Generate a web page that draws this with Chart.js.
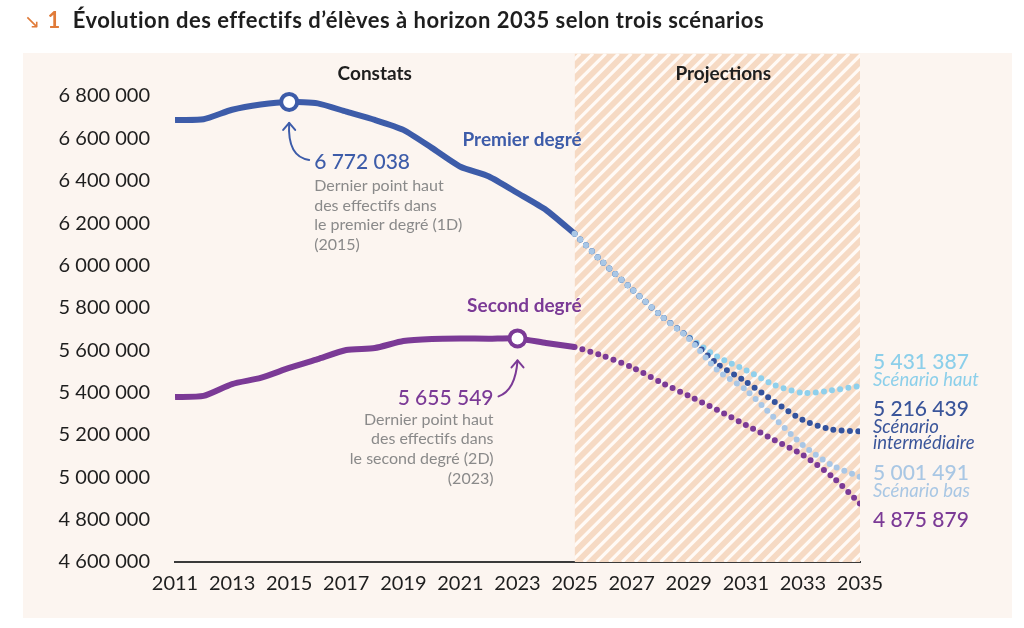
<!DOCTYPE html>
<html lang="fr">
<head>
<meta charset="utf-8">
<script src="https://cdn.jsdelivr.net/npm/chart.js@4"></script>
<style>
  html,body{margin:0;padding:0;background:#fff;}
  #wrap{position:relative;width:1024px;height:628px;}
  canvas{position:absolute;left:0;top:0;}
  #title{position:absolute;left:24px;top:6px;font-family:Lato,"Open Sans",sans-serif;font-weight:700;font-size:22px;letter-spacing:0.5px;line-height:28px;color:#1e1e1e;white-space:nowrap;}
  #title .num{color:#e07b39;margin-right:12px;}
  #title .arr{color:#e07b39;font-family:"DejaVu Sans",sans-serif;font-weight:400;font-size:19px;margin-right:7px;}
</style>
</head>
<body>
<div id="wrap">
  <canvas id="c" width="1024" height="628"></canvas>
  <div id="title"><span class="arr">↘</span><span class="num">1</span>Évolution des effectifs d’élèves à horizon 2035 selon trois scénarios</div>
</div>
<script>
// ---------- DATA ----------
const yearsObserved = [2011,2012,2013,2014,2015,2016,2017,2018,2019,2020,2021,2022,2023,2024,2025];
const yearsProjected = [2025,2026,2027,2028,2029,2030,2031,2032,2033,2034,2035];
const xTickLabels = [2011,2013,2015,2017,2019,2021,2023,2025,2027,2029,2031,2033,2035];
const yTickValues = [4600000,4800000,5000000,5200000,5400000,5600000,5800000,6000000,6200000,6400000,6600000,6800000];

const premierDegre = [6687000,6690000,6735000,6760000,6772038,6765000,6726000,6687000,6640000,6555000,6466000,6420000,6342000,6262000,6150000];
const secondDegre  = [5379000,5384000,5440000,5469000,5516000,5558000,5601000,5610000,5643000,5653000,5655000,5654000,5655549,5634000,5615000];

const premierHaut = [6150000,6013000,5889000,5766000,5662000,5569000,5506000,5436000,5398000,5410000,5431387];
const premierInter = [6150000,6013000,5889000,5766000,5660000,5535000,5451000,5357000,5270000,5226000,5216439];
const premierBas  = [6150000,6013000,5889000,5766000,5655000,5506000,5412000,5280000,5152000,5058000,5001491];
const secondProj  = [5615000,5573000,5520000,5450000,5384000,5318000,5247000,5176000,5105000,5006000,4875879];

const peak1D = {year:2015, value:6772038};
const peak2D = {year:2023, value:5655549};

// ---------- HELPERS ----------
const fmt = v => String(v).replace(/\B(?=(\d{3})+(?!\d))/g, ' ');
const pts = (xs, ys) => xs.map((x,i)=>({x:x, y:ys[i]}));
const FONT = 'Lato, "Open Sans", sans-serif';

const C = {
  blue:'#3d5ca9', purple:'#7b3a96', haut:'#8fd0ec', inter:'#34539e', bas:'#a9c7e6',
  gray:'#8a8a8a', dark:'#1e1e1e', panel:'#fcf5f0', hatch:'#f6dac4'
};

const dotted = (data, color) => ({
  data, borderColor:color, borderWidth:6, borderDash:[0,8.2], borderCapStyle:'round',
  pointRadius:0, tension:0.25, fill:false
});

const bgPlugin = {
  id:'bg',
  beforeDraw(chart){
    const ctx = chart.ctx;
    ctx.save();
    ctx.fillStyle = '#fff';
    ctx.fillRect(0,0,chart.width,chart.height);
    ctx.fillStyle = C.panel;
    ctx.fillRect(23,53,989,565);
    ctx.restore();
  },
  beforeDatasetsDraw(chart){
    const ctx = chart.ctx, xs = chart.scales.x, a = chart.chartArea;
    const x0 = xs.getPixelForValue(2025), x1 = xs.getPixelForValue(2035);
    const top = a.top, bot = a.bottom, h = bot - top;
    ctx.save();
    ctx.beginPath(); ctx.rect(x0, top, x1-x0, h); ctx.clip();
    ctx.fillStyle = C.hatch; ctx.fillRect(x0, top, x1-x0, h);
    ctx.strokeStyle = '#fffaf6'; ctx.lineWidth = 3.2;
    for (let k = x0 - h - 20; k < x1 + 20; k += 12.8){
      ctx.beginPath(); ctx.moveTo(k, bot); ctx.lineTo(k + h, top); ctx.stroke();
    }
    ctx.restore();
  }
};

function txt(ctx, s, x, y, font, color, align){
  ctx.font = font; ctx.fillStyle = color; ctx.textAlign = align || 'left'; ctx.textBaseline = 'middle';
  ctx.fillText(s, x, y);
}

const labelPlugin = {
  id:'labels',
  afterDatasetsDraw(chart){
    const ctx = chart.ctx, xs = chart.scales.x, ys = chart.scales.y;
    const X = v => xs.getPixelForValue(v), Y = v => ys.getPixelForValue(v);
    ctx.save();
    // section headers
    txt(ctx, 'Constats', X(2018), 74, '700 19px '+FONT, C.dark, 'center');
    txt(ctx, 'Projections', X(2030)+6, 74, '700 19px '+FONT, C.dark, 'center');
    // series names
    txt(ctx, 'Premier degré', X(2025)+7, 140, '700 19px '+FONT, C.blue, 'right');
    txt(ctx, 'Second degré', X(2025)+7, 306, '700 19px '+FONT, C.purple, 'right');

    // 1D peak annotation
    const p1x = X(peak1D.year), p1y = Y(peak1D.value);
    const a1x = p1x + 25;
    txt(ctx, fmt(peak1D.value), a1x, p1y + 60, '500 21px '+FONT, C.blue, 'left');
    ['Dernier point haut','des effectifs dans','le premier degré (1D)','(2015)'].forEach((s,i)=>{
      txt(ctx, s, a1x, p1y + 84 + i*19.6, '400 16px '+FONT, C.gray, 'left');
    });
    ctx.strokeStyle = C.blue; ctx.lineWidth = 2; ctx.lineCap='round'; ctx.lineJoin='round';
    ctx.beginPath(); ctx.moveTo(a1x - 5, p1y + 58);
    ctx.quadraticCurveTo(p1x - 2, p1y + 55, p1x, p1y + 21); ctx.stroke();
    ctx.beginPath(); ctx.moveTo(p1x - 6, p1y + 28); ctx.lineTo(p1x, p1y + 21); ctx.lineTo(p1x + 6, p1y + 28); ctx.stroke();

    // 2D peak annotation
    const p2x = X(peak2D.year), p2y = Y(peak2D.value);
    const a2x = p2x - 24;
    txt(ctx, fmt(peak2D.value), a2x, p2y + 60, '500 21px '+FONT, C.purple, 'right');
    ['Dernier point haut','des effectifs dans','le second degré (2D)','(2023)'].forEach((s,i)=>{
      txt(ctx, s, a2x, p2y + 81 + i*19.8, '400 16px '+FONT, C.gray, 'right');
    });
    ctx.strokeStyle = C.purple;
    ctx.beginPath(); ctx.moveTo(a2x + 5, p2y + 58);
    ctx.quadraticCurveTo(p2x - 2, p2y + 52, p2x, p2y + 22); ctx.stroke();
    ctx.beginPath(); ctx.moveTo(p2x - 6, p2y + 29); ctx.lineTo(p2x, p2y + 22); ctx.lineTo(p2x + 6, p2y + 29); ctx.stroke();

    // end labels
    const ex = X(2035) + 13;
    const h = premierHaut[premierHaut.length-1], m = premierInter[premierInter.length-1];
    const b = premierBas[premierBas.length-1], s2 = secondProj[secondProj.length-1];
    const IT = 'italic 400 18.5px '+FONT;
    txt(ctx, fmt(h), ex, Y(h) - 24, '500 21px '+FONT, '#8ccfea');
    txt(ctx, 'Scénario haut', ex, Y(h) - 6, IT, '#8ccfea');
    txt(ctx, fmt(m), ex, Y(m) - 22, '500 21px '+FONT, '#3a559a');
    txt(ctx, 'Scénario', ex, Y(m) - 4, IT, '#3a559a');
    txt(ctx, 'intermédiaire', ex, Y(m) + 12, IT, '#3a559a');
    txt(ctx, fmt(b), ex, Y(b) - 4, '500 21px '+FONT, '#a9c7e4');
    txt(ctx, 'Scénario bas', ex, Y(b) + 14, IT, '#a9c7e4');
    txt(ctx, fmt(s2), ex, Y(s2) + 17, '500 21px '+FONT, C.purple);
    ctx.restore();
  }
};

new Chart(document.getElementById('c'), {
  type:'line',
  data:{
    datasets:[
      dotted(pts(yearsProjected, premierBas), C.bas),
      dotted(pts(yearsProjected, premierInter), C.inter),
      dotted(pts(yearsProjected, premierHaut), C.haut),
      dotted(pts(yearsProjected, secondProj), C.purple),
      { data:pts(yearsObserved, premierDegre), borderColor:C.blue, borderWidth:6, tension:0.2,
        pointRadius:ctx=> (ctx.raw && ctx.raw.x===peak1D.year) ? 8 : 0,
        pointBackgroundColor:'#fff', pointBorderColor:C.blue, pointBorderWidth:4, borderCapStyle:'butt' },
      { data:pts(yearsObserved, secondDegre), borderColor:C.purple, borderWidth:6, tension:0.2,
        pointRadius:ctx=> (ctx.raw && ctx.raw.x===peak2D.year) ? 8 : 0,
        pointBackgroundColor:'#fff', pointBorderColor:C.purple, pointBorderWidth:4, borderCapStyle:'butt' }
    ]
  },
  options:{
    responsive:false, animation:false, events:[],
    layout:{padding:{left:0, right:164, top:53.6, bottom:0}},
    plugins:{legend:{display:false}, tooltip:{enabled:false}},
    scales:{
      x:{
        type:'linear', min:2011, max:2035,
        afterBuildTicks: s => { s.ticks = xTickLabels.map(v=>({value:v})); },
        afterFit: s => { s.height = 66; },
        grid:{display:false, drawTicks:false},
        border:{display:true, color:'#3a3a3a', width:2},
        ticks:{font:{family:FONT, size:20}, color:C.dark, padding:10, maxRotation:0, autoSkip:false,
               callback:v=>String(v)}
      },
      y:{
        type:'linear', min:4600000, max:7000000,
        afterBuildTicks: s => { s.ticks = yTickValues.map(v=>({value:v})); },
        afterFit: s => { s.width = 175; },
        grid:{display:false, drawTicks:false},
        border:{display:false},
        ticks:{font:{family:FONT, size:20}, color:C.dark, padding:25, callback:v=>fmt(v)}
      }
    }
  },
  plugins:[bgPlugin, labelPlugin]
});
</script>
</body>
</html>
